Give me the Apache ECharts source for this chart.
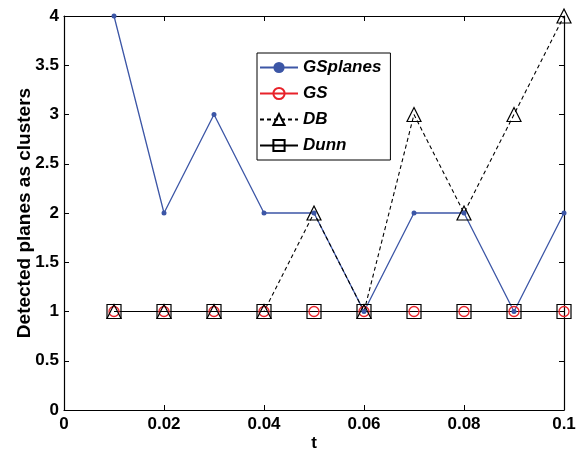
<!DOCTYPE html>
<html><head><meta charset="utf-8">
<script src="https://cdn.jsdelivr.net/npm/echarts@6/dist/echarts.min.js"></script>
<style>html,body{margin:0;padding:0;background:#fff}#c{width:580px;height:451px}</style>
</head><body><div id="c"></div>
<script>
const tValues = [0.01,0.02,0.03,0.04,0.05,0.06,0.07,0.08,0.09,0.1];
const gsplanes = [4,2,3,2,2,1,2,2,1,2];
const gs = [1,1,1,1,1,1,1,1,1,1];
const db = [1,1,1,1,2,1,3,2,3,4];
const dunn = [1,1,1,1,1,1,1,1,1,1];
const xTicks = [0,0.02,0.04,0.06,0.08,0.1];
const yTicks = [0,0.5,1,1.5,2,2.5,3,3.5,4];

const pairs = arr => tValues.map((t,i)=>[t,arr[i]]);
const F = 'Liberation Sans, Arial, sans-serif';
const chart = echarts.init(document.getElementById('c'));
const axisCommon = {
  axisLine:{show:true,onZero:false,lineStyle:{color:'#000',width:1.2}},
  axisTick:{show:true,inside:true,length:5,lineStyle:{color:'#000'}},
  splitLine:{show:false}
};
chart.setOption({
  animation:false,
  backgroundColor:'#fff',
  grid:{left:64,right:16,top:16,bottom:41,containLabel:false,outerBoundsMode:'none'},
  xAxis:[
    Object.assign({type:'value',min:0,max:0.1,interval:0.02,position:'bottom',
      name:'t',nameLocation:'middle',nameGap:25,nameMoveOverlap:false,
      nameTextStyle:{fontFamily:F,fontWeight:'bold',fontSize:17,color:'#000'},
      axisLabel:{fontFamily:F,fontWeight:'bold',fontSize:17,color:'#000',margin:6,
        formatter:v=>{const m=xTicks.find(x=>Math.abs(x-v)<1e-9);return m===undefined?'':String(m);}}},axisCommon),
    Object.assign({type:'value',min:0,max:0.1,interval:0.02,position:'top',axisLabel:{show:false}},axisCommon)
  ],
  yAxis:[
    Object.assign({type:'value',min:0,max:4,interval:0.5,position:'left',
      name:'Detected planes as clusters',nameLocation:'middle',nameGap:30,nameMoveOverlap:false,
      nameTextStyle:{fontFamily:F,fontWeight:'bold',fontSize:19,color:'#000'},
      axisLabel:{fontFamily:F,fontWeight:'bold',fontSize:17,color:'#000',margin:5,
        formatter:v=>{const m=yTicks.find(x=>Math.abs(x-v)<1e-9);return m===undefined?'':String(m);}}},axisCommon),
    Object.assign({type:'value',min:0,max:4,interval:0.5,position:'right',axisLabel:{show:false}},axisCommon)
  ],
  legend:{
    orient:'vertical',left:257,top:53,
    backgroundColor:'#fff',borderColor:'#000',borderWidth:1,
    padding:[6,9,6,2],itemGap:9,itemWidth:38,itemHeight:14,
    textStyle:{fontFamily:F,fontWeight:'bold',fontStyle:'italic',fontSize:17,color:'#000'},
    data:['GSplanes','GS','DB','Dunn']
  },
  series:[
    {name:'GSplanes',type:'line',data:pairs(gsplanes),symbol:'circle',symbolSize:5,
      lineStyle:{color:'#3c56a6',width:1.3},itemStyle:{color:'#3c56a6'}},
    {name:'GS',type:'line',data:pairs(gs),symbol:'circle',symbolSize:10,
      lineStyle:{color:'#e8222a',width:1.2},itemStyle:{color:'transparent',borderColor:'#e8222a',borderWidth:1.3}},
    {name:'DB',type:'line',data:pairs(db),symbol:'triangle',symbolSize:14,
      lineStyle:{color:'#000',width:1.1,type:[4,3]},itemStyle:{color:'transparent',borderColor:'#000',borderWidth:1.2}},
    {name:'Dunn',type:'line',data:pairs(dunn),symbol:'rect',symbolSize:14,
      lineStyle:{color:'#000',width:1.1},itemStyle:{color:'transparent',borderColor:'#000',borderWidth:1.2}}
  ]
});
</script></body></html>
